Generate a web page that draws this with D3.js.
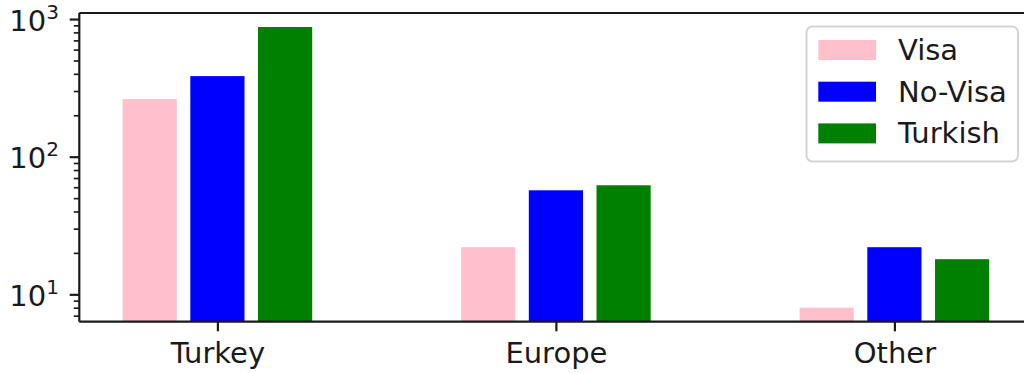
<!DOCTYPE html>
<html>
<head>
<meta charset="utf-8">
<script src="https://cdn.jsdelivr.net/npm/d3@7"></script>
<style>
  html, body { margin: 0; padding: 0; background: #fff; }
  svg { display: block; font-family: "DejaVu Sans", sans-serif; }
</style>
</head>
<body>
<svg id="chart" width="1024" height="373"></svg>
<script>
// Regions on the x axis
const categories = ["Turkey", "Europe", "Other"];
// Series names and values (log scale)
const seriesNames = ["Visa", "No-Visa", "Turkish"];
const visa = [262, 22, 8];
const noVisa = [385, 57, 22];
const turkish = [875, 62, 18];
const seriesColors = ["#ffc0cb", "#0000ff", "#008000"];
// Major tick exponents for the y axis
const majorExponents = [1, 2, 3];

const series = [visa, noVisa, turkish];

const svg = d3.select("#chart");
const plotLeft = 79.3, plotTop = 13, plotBottom = 321.7, plotRight = 1032.5;
const ink = "#1a1a1a";
const lw = 2.2;
const fontSize = 29;

// Bar geometry in category units: three bars, offset 0.2, width 0.16
const offset = 0.2, barW = 0.16;
const n = categories.length;
const xMin = -offset - barW / 2, xMax = (n - 1) + offset + barW / 2;
const xPad = (xMax - xMin) * 0.05;
const x = d3.scaleLinear().domain([xMin - xPad, xMax + xPad]).range([plotLeft, plotRight]);

// Log y domain with 5% padding in log space
const allVals = series.flat();
const lMin = Math.log10(d3.min(allVals)), lMax = Math.log10(d3.max(allVals));
const lPad = (lMax - lMin) * 0.05;
const y = d3.scaleLog()
  .domain([Math.pow(10, lMin - lPad), Math.pow(10, lMax + lPad)])
  .range([plotBottom, plotTop]);

// Bars
const plot = svg.append("g");
series.forEach((vals, si) => {
  plot.selectAll(null)
    .data(vals)
    .join("rect")
    .attr("x", (d, i) => x(i + (si - 1) * offset - barW / 2))
    .attr("width", x(barW) - x(0))
    .attr("y", d => y(d))
    .attr("height", d => plotBottom - y(d))
    .attr("fill", seriesColors[si]);
});

// Minor ticks on the y axis
const [d0, d1] = y.domain();
const minors = [];
for (let e = Math.floor(Math.log10(d0)); e <= Math.ceil(Math.log10(d1)); e++) {
  for (let k = 2; k <= 9; k++) {
    const v = k * Math.pow(10, e);
    if (v >= d0 && v <= d1) minors.push(v);
  }
}
const majors = majorExponents.map(e => Math.pow(10, e));

const yMinorAxis = svg.append("g")
  .attr("transform", `translate(${plotLeft},0)`)
  .call(d3.axisLeft(y).tickValues(minors).tickSize(5.5).tickSizeOuter(0).tickFormat(""));
yMinorAxis.select(".domain").remove();
yMinorAxis.selectAll(".tick line").attr("stroke", ink).attr("stroke-width", 1.65);

const yMajorAxis = svg.append("g")
  .attr("transform", `translate(${plotLeft},0)`)
  .call(d3.axisLeft(y).tickValues(majors).tickSize(9.6).tickSizeOuter(0).tickFormat(""));
yMajorAxis.select(".domain").remove();
yMajorAxis.selectAll(".tick line").attr("stroke", ink).attr("stroke-width", lw);

// Tick labels as 10 with a superscript exponent
majorExponents.forEach(e => {
  const t = svg.append("text")
    .attr("x", 59)
    .attr("y", y(Math.pow(10, e)) + 11.5)
    .attr("text-anchor", "end")
    .attr("fill", ink)
    .style("font-size", fontSize + "px");
  t.append("tspan").text("10");
  t.append("tspan").attr("dy", -12).style("font-size", "20px").text(e);
});

// X axis with category labels
const xAxis = svg.append("g")
  .attr("transform", `translate(0,${plotBottom})`)
  .call(d3.axisBottom(x)
    .tickValues(d3.range(n))
    .tickFormat(i => categories[i])
    .tickSize(9.6)
    .tickSizeOuter(0)
    .tickPadding(14));
xAxis.select(".domain").remove();
xAxis.selectAll(".tick line").attr("stroke", ink).attr("stroke-width", lw);
xAxis.selectAll(".tick text")
  .attr("fill", ink)
  .attr("dy", null)
  .attr("y", 41.5)
  .style("font-family", "DejaVu Sans, sans-serif")
  .style("font-size", fontSize + "px");

// Spines
const spines = svg.append("g").attr("stroke", ink).attr("stroke-width", lw).attr("fill", "none");
spines.append("line").attr("x1", plotLeft).attr("x2", plotLeft).attr("y1", plotTop).attr("y2", plotBottom);
spines.append("line").attr("x1", plotLeft).attr("x2", plotRight).attr("y1", plotTop).attr("y2", plotTop);
spines.append("line").attr("x1", plotLeft).attr("x2", plotRight).attr("y1", plotBottom).attr("y2", plotBottom);
spines.append("line").attr("x1", plotRight).attr("x2", plotRight).attr("y1", plotTop).attr("y2", plotBottom);

// Legend
const legend = svg.append("g");
legend.append("rect")
  .attr("x", 806.5).attr("y", 26.5)
  .attr("width", 211.5).attr("height", 135)
  .attr("rx", 6).attr("ry", 6)
  .attr("fill", "#fff").attr("fill-opacity", 0.8)
  .attr("stroke", "#d4d4d4").attr("stroke-width", 2);
seriesNames.forEach((name, i) => {
  const ry = 40 + i * 41.7;
  legend.append("rect")
    .attr("x", 818.3).attr("y", ry)
    .attr("width", 57.7).attr("height", 20)
    .attr("fill", seriesColors[i]);
  legend.append("text")
    .attr("x", 898).attr("y", ry + 20)
    .attr("fill", ink)
    .style("font-size", fontSize + "px")
    .text(name);
});
</script>
</body>
</html>
